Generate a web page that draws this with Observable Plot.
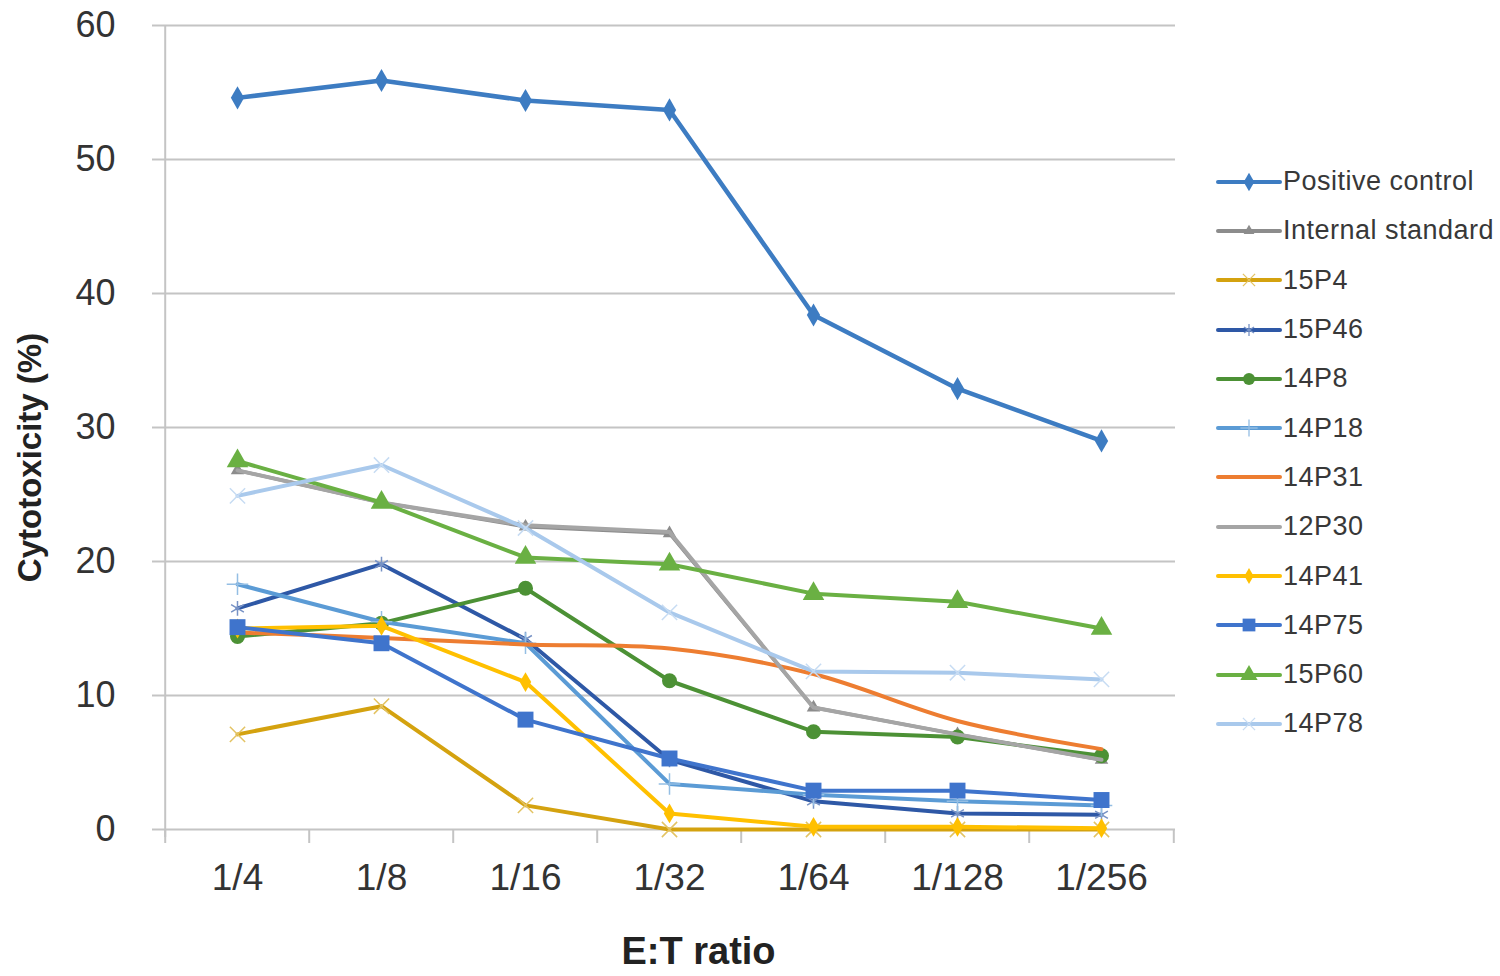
<!DOCTYPE html>
<html>
<head>
<meta charset="utf-8">
<script src="https://cdn.jsdelivr.net/npm/d3@7"></script>
<script src="https://cdn.jsdelivr.net/npm/@observablehq/plot@0.6"></script>
<style>
  body { margin: 0; background: #fff; font-family: "Liberation Sans", Arial, sans-serif; }
  #wrap { position: relative; width: 1500px; height: 976px; overflow: hidden; }
  #legend { position: absolute; left: 1216px; top: 157px; }
  .row { display: flex; align-items: center; height: 49.3px; font-size: 27px; letter-spacing: 0.5px; color: #383838; white-space: nowrap; }
  .row svg { margin-right: 1px; }
</style>
</head>
<body>
<div id="wrap"><div id="chart"></div><div id="legend"></div></div>
<script>
// ---------- data ----------
const ratios = ["1/4", "1/8", "1/16", "1/32", "1/64", "1/128", "1/256"];
const seriesNames = ["Positive control", "Internal standard", "15P4", "15P46", "14P8", "14P18", "14P31", "12P30", "14P41", "14P75", "15P60", "14P78"];

const positiveControl  = [54.6, 55.9, 54.4, 53.7, 38.4, 32.9, 29.0];
const internalStandard = [26.8, 24.4, 22.6, 22.1, 9.1, 7.1, 5.2];
const s15P4            = [7.1, 9.2, 1.8, 0.0, 0.0, 0.0, 0.0];
const s15P46           = [16.5, 19.8, 14.2, 5.2, 2.1, 1.2, 1.1];
const s14P8            = [14.4, 15.4, 18.0, 11.1, 7.3, 6.9, 5.5];
const s14P18           = [18.3, 15.5, 13.9, 3.4, 2.6, 2.1, 1.8];
const s14P31           = [14.7, 14.3, 13.8, 13.5, 11.6, 8.1, 6.0];
const s12P30           = [26.8, 24.4, 22.7, 22.2, 9.1, 7.1, 5.2];
const s14P41           = [15.0, 15.2, 11.0, 1.2, 0.2, 0.2, 0.1];
const s14P75           = [15.1, 13.9, 8.2, 5.3, 2.9, 2.9, 2.2];
const s15P60           = [27.5, 24.4, 20.3, 19.8, 17.6, 17.0, 15.0];
const s14P78           = [24.9, 27.2, 22.5, 16.2, 11.8, 11.7, 11.2];

const seriesValues = [positiveControl, internalStandard, s15P4, s15P46, s14P8, s14P18, s14P31, s12P30, s14P41, s14P75, s15P60, s14P78];
const yTicks = [0, 10, 20, 30, 40, 50, 60];

// ---------- styles ----------
const seriesColors  = ["#3D7CC2", "#8C8C8C", "#D4A20F", "#2E58A6", "#4C9135", "#5B9BD5", "#ED7D31", "#A5A5A5", "#FFC000", "#3F74CC", "#6AB043", "#A9C9EC"];
const seriesSymbols = ["diamond", "triangle", "times", "asterisk", "circle", "plus", null, null, "diamond", "square", "triangle", "times"];
const symbolSizes   = [7, 5, 7, 7, 7.5, 7, 0, 0, 6, 9, 8, 7];
const lineWidths    = [4.5, 3.5, 4, 4, 4, 4, 4, 4, 4, 4, 4, 4];
const curves        = ["linear", "linear", "linear", "linear", "linear", "linear", "catmull-rom", "linear", "linear", "linear", "linear", "linear"];
const strokeSymbols = new Set(["times", "asterisk", "plus"]);

// ---------- layout ----------
const W = 1500, H = 976, mL = 163, mR = 325, mT = 25, mB = 147;
const step = (W - mL - mR) / ratios.length;
const axisGray = "#c4c4c4";
const textColor = "#333333";

const rows = seriesNames.flatMap((name, s) =>
  seriesValues[s].map((v, i) => ({series: name, ratio: ratios[i], value: v})));

const marks = [
  Plot.gridY(yTicks.filter(d => d > 0), {stroke: axisGray, strokeOpacity: 1, strokeWidth: 2}),
  Plot.ruleY([0], {stroke: axisGray, strokeWidth: 2}),
  Plot.ruleX([ratios[0]], {dx: -step / 2, stroke: axisGray, strokeWidth: 2, insetBottom: -8}),
  Plot.ruleX(ratios, {dx: -step / 2, y1: 0, y2: 0, insetBottom: -14, stroke: axisGray, strokeWidth: 2}),
  Plot.ruleX([ratios[ratios.length - 1]], {dx: step / 2, y1: 0, y2: 0, insetBottom: -14, stroke: axisGray, strokeWidth: 2}),
  Plot.axisY({ticks: yTicks, tickSize: 11, tickPadding: 37, stroke: axisGray, strokeWidth: 2, fill: textColor, fontSize: 36, label: null}),
  Plot.axisX({tickSize: 0, tickPadding: 34, fill: textColor, fontSize: 37, label: null}),
  Plot.text(["Cytotoxicity (%)"], {frameAnchor: "left", textAnchor: "middle", lineAnchor: "middle", dx: -133, dy: 30, rotate: -90, fontSize: 33, fontWeight: "bold", fill: "#222"}),
  Plot.text(["E:T ratio"], {frameAnchor: "bottom", textAnchor: "middle", lineAnchor: "middle", dx: 29, dy: 122, fontSize: 38, fontWeight: "bold", fill: "#222"})
];

seriesNames.forEach((name, s) => {
  const data = rows.filter(d => d.series === name);
  marks.push(Plot.line(data, {x: "ratio", y: "value", stroke: seriesColors[s], strokeWidth: lineWidths[s], curve: curves[s], strokeLinejoin: "round"}));
  const sym = seriesSymbols[s];
  if (sym) {
    if (strokeSymbols.has(sym)) {
      marks.push(Plot.dot(data, {x: "ratio", y: "value", symbol: sym, r: symbolSizes[s], stroke: d3.interpolateRgb(seriesColors[s], "#ffffff")(0.35), strokeWidth: 1.5, fill: "none"}));
    } else {
      marks.push(Plot.dot(data, {x: "ratio", y: "value", symbol: sym, r: symbolSizes[s], fill: seriesColors[s], stroke: "none"}));
    }
  }
});

const chart = Plot.plot({
  width: W, height: H,
  marginLeft: mL, marginRight: mR, marginTop: mT, marginBottom: mB,
  style: {fontFamily: "'Liberation Sans', Arial, sans-serif", fontSize: "36px", background: "#fff", color: textColor, overflow: "visible"},
  x: {type: "point", domain: ratios, padding: 0.5},
  y: {domain: [0, 60]},
  marks
});
document.getElementById("chart").appendChild(chart);

// ---------- legend ----------
const symMap = {diamond: d3.symbolDiamond, triangle: d3.symbolTriangle, times: d3.symbolTimes, asterisk: d3.symbolAsterisk,
  circle: d3.symbolCircle, plus: d3.symbolPlus, square: d3.symbolSquare};
const legend = d3.select("#legend");
seriesNames.forEach((name, s) => {
  const row = legend.append("div").attr("class", "row");
  const svg = row.append("svg").attr("width", 66).attr("height", 24);
  svg.append("line").attr("x1", 2).attr("x2", 64).attr("y1", 12).attr("y2", 12)
    .attr("stroke", seriesColors[s]).attr("stroke-width", 4).attr("stroke-linecap", "round");
  const sym = seriesSymbols[s];
  if (sym) {
    const r = symbolSizes[s] * 0.8;
    const path = d3.symbol(symMap[sym], Math.PI * r * r)();
    const p = svg.append("path").attr("d", path).attr("transform", "translate(33,12)");
    if (strokeSymbols.has(sym)) p.attr("fill", "none").attr("stroke", d3.interpolateRgb(seriesColors[s], "#ffffff")(0.35)).attr("stroke-width", 1.3);
    else p.attr("fill", seriesColors[s]);
  }
  row.append("span").text(name);
});
</script>
</body>
</html>
